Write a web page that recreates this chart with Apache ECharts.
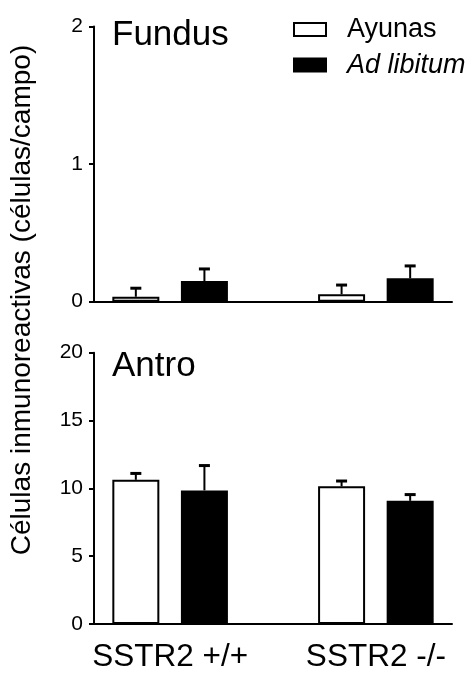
<!DOCTYPE html>
<html>
<head>
<meta charset="utf-8">
<script src="https://cdn.jsdelivr.net/npm/echarts@6/dist/echarts.min.js"></script>
<style>
html,body{margin:0;padding:0;background:#fff;}
#c{width:476px;height:673px;}
</style>
</head>
<body>
<div id="c"></div>
<script>
const categories = ['SSTR2 +/+', 'SSTR2 -/-'];
const seriesNames = ['Ayunas', 'Ad libitum'];
const panelNames = ['Fundus', 'Antro'];
// Fundus (células/campo)
const fundusAyunas = [0.036, 0.054];
const fundusAyunasSem = [0.062, 0.067];
const fundusAdlib = [0.15, 0.17];
const fundusAdlibSem = [0.088, 0.09];
// Antro
const antroAyunas = [10.63, 10.15];
const antroAyunasSem = [0.47, 0.39];
const antroAdlib = [9.85, 9.08];
const antroAdlibSem = [1.83, 0.46];
const fundusTicks = [0, 1, 2];
const antroTicks = [0, 5, 10, 15, 20];

const FONT = '"Liberation Sans", Arial, Helvetica, sans-serif';
const pos = (g, s) => g * 3 + s + 1;

function barData(vals, s) { return vals.map((v, g) => [pos(g, s), v]); }
function errData(vals, sems, s) { return vals.map((v, g) => [pos(g, s), v, v + sems[g]]); }

function errRender(params, api) {
  const x = api.value(0);
  const base = api.coord([x, api.value(1)]);
  const top = api.coord([x, api.value(2)]);
  return {
    type: 'group',
    children: [
      { type: 'line', shape: { x1: base[0], y1: base[1], x2: top[0], y2: top[1] }, style: { stroke: '#000', lineWidth: 2 } },
      { type: 'line', shape: { x1: top[0] - 5.5, y1: top[1], x2: top[0] + 5.5, y2: top[1] }, style: { stroke: '#000', lineWidth: 3 } }
    ]
  };
}

const white = { color: '#fff', borderColor: '#000', borderWidth: 2 };
const black = { color: '#000', borderColor: '#000', borderWidth: 2 };

const chart = echarts.init(document.getElementById('c'));
const xCommon = {
  type: 'value', min: 0.39, max: 5.61,
  axisLine: { show: true, onZero: false, lineStyle: { color: '#000', width: 2 } },
  axisTick: { show: false }, splitLine: { show: false }
};
const yCommon = {
  type: 'value',
  axisLine: { show: true, lineStyle: { color: '#000', width: 2 } },
  axisTick: { show: true, length: 5, lineStyle: { color: '#000', width: 2 } },
  axisLabel: { color: '#000', fontSize: 21, fontFamily: FONT, margin: 11 },
  splitLine: { show: false }
};
const barCommon = { type: 'bar', barWidth: 47, barGap: '-100%' };

chart.setOption({
  animation: false,
  backgroundColor: '#fff',
  title: [
    { text: panelNames[0], left: 112, top: 18, padding: 0, textStyle: { fontSize: 35, fontWeight: 'normal', color: '#000', fontFamily: FONT } },
    { text: panelNames[1], left: 112, top: 349, padding: 0, textStyle: { fontSize: 35, fontWeight: 'normal', color: '#000', fontFamily: FONT } }
  ],
  legend: {
    orient: 'vertical', left: 293, top: 16, padding: 0,
    itemWidth: 32, itemHeight: 13, itemGap: 8.5, icon: 'rect',
    textStyle: { fontSize: 27, color: '#000', fontFamily: FONT, padding: [0, 0, 0, 16] },
    data: [
      { name: seriesNames[0], itemStyle: white },
      { name: seriesNames[1], itemStyle: black, textStyle: { fontStyle: 'italic' } }
    ]
  },
  graphic: [{
    type: 'text', x: 22, y: 300, rotation: Math.PI / 2,
    style: { text: 'Células inmunoreactivas (células/campo)', fontSize: 28, fontFamily: FONT, fill: '#000', align: 'center', verticalAlign: 'middle' }
  }],
  grid: [
    { left: 94, right: 24, top: 26.5, height: 275.2 },
    { left: 94, right: 24, top: 352.7, height: 274 }
  ],
  xAxis: [
    Object.assign({ gridIndex: 0, axisLabel: { show: false } }, xCommon),
    Object.assign({ gridIndex: 1, axisLabel: { show: true, customValues: [1.5, 4.5], color: '#000', fontSize: 31.5, fontFamily: FONT, margin: 17,
      formatter: v => categories[Math.round((v - 1.5) / 3)] } }, xCommon)
  ],
  yAxis: [
    Object.assign({ gridIndex: 0, min: fundusTicks[0], max: fundusTicks[fundusTicks.length - 1], interval: 1 }, yCommon),
    Object.assign({ gridIndex: 1, min: antroTicks[0], max: antroTicks[antroTicks.length - 1], interval: 5 }, yCommon)
  ],
  series: [
    Object.assign({ name: seriesNames[0], xAxisIndex: 0, yAxisIndex: 0, itemStyle: white, data: barData(fundusAyunas, 0) }, barCommon),
    Object.assign({ name: seriesNames[1], xAxisIndex: 0, yAxisIndex: 0, itemStyle: black, data: barData(fundusAdlib, 1) }, barCommon),
    Object.assign({ name: seriesNames[0], xAxisIndex: 1, yAxisIndex: 1, itemStyle: white, data: barData(antroAyunas, 0) }, barCommon),
    Object.assign({ name: seriesNames[1], xAxisIndex: 1, yAxisIndex: 1, itemStyle: black, data: barData(antroAdlib, 1) }, barCommon),
    { type: 'custom', xAxisIndex: 0, yAxisIndex: 0, z: 5, renderItem: errRender, data: errData(fundusAyunas, fundusAyunasSem, 0) },
    { type: 'custom', xAxisIndex: 0, yAxisIndex: 0, z: 5, renderItem: errRender, data: errData(fundusAdlib, fundusAdlibSem, 1) },
    { type: 'custom', xAxisIndex: 1, yAxisIndex: 1, z: 5, renderItem: errRender, data: errData(antroAyunas, antroAyunasSem, 0) },
    { type: 'custom', xAxisIndex: 1, yAxisIndex: 1, z: 5, renderItem: errRender, data: errData(antroAdlib, antroAdlibSem, 1) }
  ]
});
</script>
</body>
</html>
